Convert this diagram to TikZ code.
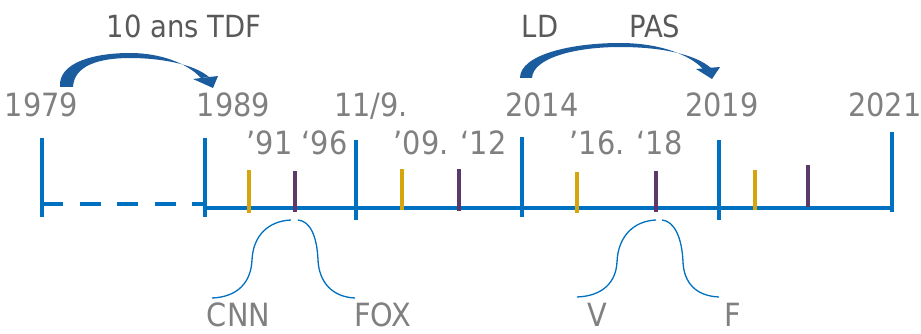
\documentclass[tikz,border=0pt]{standalone}
\usepackage{fontspec}
\setmainfont{DejaVu Sans Condensed}
\definecolor{tlblue}{HTML}{0070C0}
\definecolor{arrblue}{HTML}{1B5C9E}
\definecolor{tgold}{HTML}{D4A50C}
\definecolor{tpurple}{HTML}{5B3A6B}
\definecolor{lgray}{HTML}{808080}
\definecolor{dgray}{HTML}{595959}
\begin{document}
\begin{tikzpicture}[x=1pt,y=-1pt,
  yearlbl/.style={text=lgray, font=\fontsize{32}{36}\selectfont, anchor=base, inner sep=0pt},
  bottomlbl/.style={yearlbl, text depth=0pt},
  toplbl/.style={text=dgray, font=\fontsize{30.5}{34}\selectfont, anchor=base, inner sep=0pt},
  majortick/.style={draw=tlblue, line width=4pt},
  goldtick/.style={draw=tgold, line width=3.5pt},
  purpletick/.style={draw=tpurple, line width=3.5pt},
  axisline/.style={draw=tlblue, line width=4.5pt},
  dashaxis/.style={draw=tlblue, line width=4.5pt, dash pattern=on 21pt off 16.5pt},
  bell/.style={draw=tlblue, line width=1.3pt},
  bigarrow/.style={fill=arrblue, draw=none}]
\useasboundingbox (0,0) rectangle (921,334);

% major ticks
\foreach \n/\x/\ya/\yb in {a/42/138/217, b/205/138/217, c/356/140/220, d/522/137/217, e/719/140/220, f/892/132/212}{
  \coordinate (M\n top) at (\x,\ya);
  \coordinate (M\n bot) at (\x,\yb);
  \draw[majortick] (M\n top) -- (M\n bot);
}
% axis
\coordinate (dashL) at (42,204);
\coordinate (dashR) at (205,204);
\draw[dashaxis] (dashL) -- (dashR);
\coordinate (axL) at (203,208);
\coordinate (axR) at (894,208);
\draw[axisline] (axL) -- (axR);

% minor ticks
\foreach \n/\x/\ya/\yb in {a/249/170/213, b/402/169/210, c/577/172/213, d/755/170/210}{
  \coordinate (G\n top) at (\x,\ya);
  \coordinate (G\n bot) at (\x,\yb);
  \draw[goldtick] (G\n top) -- (G\n bot);
}
\foreach \n/\x/\ya/\yb in {a/295/171/212, b/459/169/211, c/656/171/212, d/808/165/207}{
  \coordinate (P\n top) at (\x,\ya);
  \coordinate (P\n bot) at (\x,\yb);
  \draw[purpletick] (P\n top) -- (P\n bot);
}

% year labels
\node[yearlbl] (y1979) at (41.5,117) {1979};
\node[yearlbl] (y1989) at (233.5,117) {1989};
\node[yearlbl] (y119) at (371,117) {11/9.};
\node[yearlbl] (y2014) at (542,117) {2014};
\node[yearlbl] (y2019) at (722,117) {2019};
\node[yearlbl] (y2021) at (885,117) {2021};
\node[yearlbl] (y9196) at (297,155) {’91 ‘96};
\node[yearlbl] (y0912) at (450,155) {’09. ‘12};
\node[yearlbl] (y1618) at (626,155) {’16. ‘18};

% top labels
\node[toplbl] (tdf) at (184,38) {10 ans TDF};
\node[toplbl] (ld) at (540,38) {LD};
\node[toplbl] (pas) at (655,38) {PAS};

% bottom labels
\node[bottomlbl] (cnn) at (238.5,326) {CNN};
\node[bottomlbl] (fox) at (382.5,326) {FOX};
\node[bottomlbl] (v) at (597.5,326) {V};
\node[bottomlbl] (f) at (732.5,326) {F};

% curved arrows
\fill[bigarrow] (60,87) .. controls (58,62) and (95,53) .. (130,53)
  .. controls (160,53) and (187,63) .. (201,78)
  -- (209,77) .. controls (194,64) and (160,58) .. (130,58)
  .. controls (98,58) and (74,66) .. (73,87) -- cycle;
\fill[bigarrow] (193,79) -- (218,76) -- (213,88) -- cycle;

\fill[bigarrow] (520,78) .. controls (520,55) and (570,43) .. (620,43)
  .. controls (660,43) and (690,55) .. (703,69)
  -- (711,68) .. controls (695,54) and (660,47) .. (620,47)
  .. controls (575,47) and (533,58) .. (532,78) -- cycle;
\fill[bigarrow] (696,69) -- (720,67) -- (712,79) -- cycle;

% bell curves
\draw[bell] (212,298) .. controls (238,297) and (251,282) .. (252,260)
  .. controls (253,236) and (268,221) .. (291,220);
\draw[bell] (298,220) .. controls (310,221) and (317,236) .. (318,260)
  .. controls (319,282) and (332,297) .. (355,298);
\draw[bell] (577,297) .. controls (603,296) and (616,282) .. (617,262)
  .. controls (618,237) and (633,221) .. (656,220);
\draw[bell] (662,220) .. controls (674,221) and (682,237) .. (683,262)
  .. controls (684,283) and (696,296) .. (719,297);
\end{tikzpicture}
\end{document}
